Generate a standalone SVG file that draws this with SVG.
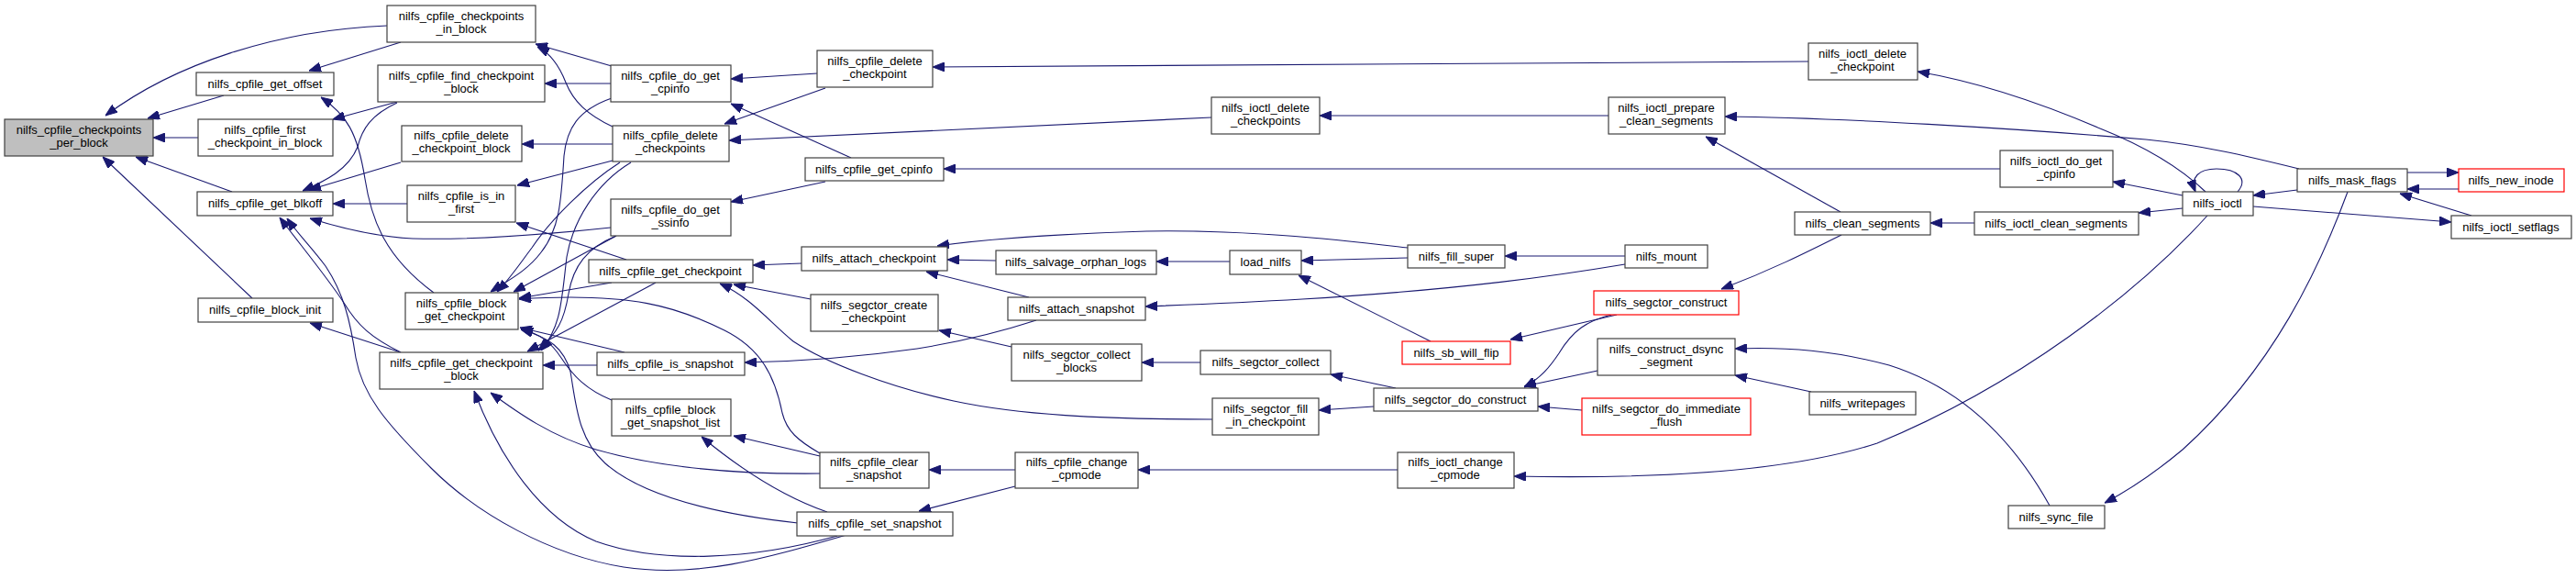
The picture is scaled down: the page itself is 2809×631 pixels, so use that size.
<svg xmlns="http://www.w3.org/2000/svg" width="2809" height="631" viewBox="0 0 2809 631">
<defs>
<marker id="ah" markerUnits="userSpaceOnUse" viewBox="0 0 13 10" refX="13" refY="5" markerWidth="13" markerHeight="10" orient="auto">
<path d="M0,0 L13,5 L0,10 z" fill="#191970" stroke="#191970" stroke-width="1"/>
</marker>
</defs>
<style>
rect{fill:#ffffff;stroke:#404040;stroke-width:1.2}
.root rect{fill:#bfbfbf}
.red rect{stroke:#ff0000}
text{font-family:"Liberation Sans",Arial,sans-serif;font-size:13px;fill:#000;text-anchor:middle}
#edges path{fill:none;stroke:#191970;stroke-width:1.1;marker-end:url(#ah)}
</style>
<rect x="0" y="0" width="2809" height="631" style="fill:#fff;stroke:none"/>
<g id="edges">
<path d="M422,28 C300,33 190,70 115,126"/>
<path d="M244,104 L161,129"/>
<path d="M216,150 L167,150"/>
<path d="M253,209 L148,171"/>
<path d="M275,325 L112,171"/>
<path d="M437,46 L337,77"/>
<path d="M473,319 C420,280 405,240 398,195 C390,145 378,125 350,106"/>
<path d="M433,111 L363,130"/>
<path d="M433,112 C405,125 395,140 390,160 C380,185 355,197 330,208"/>
<path d="M437,177 L337,207"/>
<path d="M444,222 L363,222"/>
<path d="M666,248 C600,255 520,262 450,260 C410,258 370,248 338,238"/>
<path d="M437,384 C405,368 390,355 375,330 C355,300 330,270 305,237"/>
<path d="M923,583 C830,610 760,630 680,618 C600,605 520,560 470,510 C420,460 395,430 388,390 C382,350 375,320 355,290 C340,270 325,255 313,238"/>
<path d="M667,72 L584,48"/>
<path d="M668,138 C640,125 625,110 617,90 C610,72 600,58 586,51"/>
<path d="M666,91 L594,91"/>
<path d="M668,157 L569,157"/>
<path d="M668,175 L564,202"/>
<path d="M683,283 L563,243"/>
<path d="M667,107 C630,120 618,140 615,170 C612,220 610,250 590,275 C575,295 555,305 535,318"/>
<path d="M676,177 C640,200 600,240 580,270 C565,290 555,305 542,318"/>
<path d="M672,257 L560,318"/>
<path d="M667,308 L566,325"/>
<path d="M688,177 C650,200 625,240 618,280 C612,330 612,355 590,382"/>
<path d="M672,257 C640,270 625,290 620,320 C615,350 608,362 587,382"/>
<path d="M715,308 L575,383"/>
<path d="M681,384 L567,357"/>
<path d="M667,436 C640,425 625,410 612,390 C600,372 590,365 568,358"/>
<path d="M870,570 C780,560 700,540 660,505 C630,478 628,440 622,405 C615,380 600,368 568,359"/>
<path d="M894,494 C870,480 858,470 853,450 C845,410 830,380 790,360 C740,335 690,318 566,326"/>
<path d="M651,398 L592,398"/>
<path d="M894,516 C800,517 720,510 650,490 C600,475 565,450 535,428"/>
<path d="M913,584 C820,610 720,615 650,590 C590,565 545,500 517,426"/>
<path d="M894,497 L800,475"/>
<path d="M902,558 C850,540 800,505 765,476"/>
<path d="M437,384 L338,352"/>
<path d="M874,287 L821,289"/>
<path d="M884,326 L800,310"/>
<path d="M1322,457 C1200,457 1110,452 1040,437 C970,422 900,395 865,372 C840,352 820,325 785,309"/>
<path d="M1086,284 L1033,283"/>
<path d="M1535,270 C1450,260 1350,250 1250,252 C1150,255 1080,260 1022,268"/>
<path d="M1122,324 L1010,296"/>
<path d="M1103,378 L1024,360"/>
<path d="M1130,349 C1090,362 1050,372 1000,380 C930,390 870,394 812,395"/>
<path d="M1772,288 C1700,300 1600,315 1420,326 C1350,330 1300,332 1249,334"/>
<path d="M1341,285 L1261,285"/>
<path d="M1535,281 L1419,284"/>
<path d="M1772,279 L1641,279"/>
<path d="M1560,372 L1416,300"/>
<path d="M1763,343 L1647,370"/>
<path d="M2008,256 C1970,275 1930,295 1877,315"/>
<path d="M1757,343 C1730,350 1715,360 1700,385 C1690,400 1680,412 1662,422"/>
<path d="M1742,404 L1662,421"/>
<path d="M1725,447 L1677,443"/>
<path d="M1522,423 L1451,408"/>
<path d="M1309,395 L1245,395"/>
<path d="M1498,443 L1438,447"/>
<path d="M1975,427 L1892,409"/>
<path d="M2235,551 C2190,470 2130,420 2060,398 C2000,382 1950,378 1892,380"/>
<path d="M1107,512 L1013,512"/>
<path d="M1107,530 L1002,557"/>
<path d="M1524,512 L1241,512"/>
<path d="M2407,235 C2330,320 2200,420 2047,483 C1950,515 1800,522 1651,519"/>
<path d="M1972,67 L1017,73"/>
<path d="M891,80 L797,86"/>
<path d="M900,96 L790,135"/>
<path d="M928,172 L797,113"/>
<path d="M900,198 L797,220"/>
<path d="M2181,184 L1029,184"/>
<path d="M1321,128 L795,153"/>
<path d="M1754,126 L1439,126"/>
<path d="M2007,231 L1860,149"/>
<path d="M2507,184 C2450,170 2400,158 2340,152 C2200,140 2000,128 1881,127"/>
<path d="M2405,209 C2380,185 2340,160 2290,140 C2220,110 2150,88 2091,78"/>
<path d="M2380,213 L2304,198"/>
<path d="M2380,227 L2332,232"/>
<path d="M2153,243 L2105,243"/>
<path d="M2505,207 L2457,213"/>
<path d="M2457,225 L2673,242"/>
<path d="M2625,188 L2681,188"/>
<path d="M2681,206 L2625,206"/>
<path d="M2695,235 L2617,211"/>
<path d="M2560,209 C2530,290 2480,400 2380,490 C2350,515 2320,535 2295,548"/>
<path d="M2440,209 C2452,195 2440,184 2417,184 C2398,184 2388,193 2394,209"/>
</g>
<g id="n0" class="root"><rect x="5" y="130" width="162" height="40"/><text x="86" y="146">nilfs_cpfile_checkpoints</text><text x="86" y="160">_per_block</text></g>
<g id="n1"><rect x="214" y="79" width="150" height="25"/><text x="289" y="96">nilfs_cpfile_get_offset</text></g>
<g id="n2"><rect x="216" y="130" width="147" height="40"/><text x="289" y="146">nilfs_cpfile_first</text><text x="289" y="160">_checkpoint_in_block</text></g>
<g id="n3"><rect x="215" y="209" width="148" height="26"/><text x="289" y="226">nilfs_cpfile_get_blkoff</text></g>
<g id="n4"><rect x="216" y="325" width="147" height="26"/><text x="289" y="342">nilfs_cpfile_block_init</text></g>
<g id="n5"><rect x="422" y="6" width="162" height="40"/><text x="503" y="22">nilfs_cpfile_checkpoints</text><text x="503" y="36">_in_block</text></g>
<g id="n6"><rect x="412" y="71" width="182" height="40"/><text x="503" y="87">nilfs_cpfile_find_checkpoint</text><text x="503" y="101">_block</text></g>
<g id="n7"><rect x="438" y="137" width="131" height="39"/><text x="503" y="152">nilfs_cpfile_delete</text><text x="503" y="166">_checkpoint_block</text></g>
<g id="n8"><rect x="444" y="202" width="118" height="40"/><text x="503" y="218">nilfs_cpfile_is_in</text><text x="503" y="232">_first</text></g>
<g id="n9"><rect x="442" y="319" width="123" height="40"/><text x="503" y="335">nilfs_cpfile_block</text><text x="503" y="349">_get_checkpoint</text></g>
<g id="n10"><rect x="414" y="384" width="178" height="40"/><text x="503" y="400">nilfs_cpfile_get_checkpoint</text><text x="503" y="414">_block</text></g>
<g id="n11"><rect x="666" y="71" width="131" height="40"/><text x="731" y="87">nilfs_cpfile_do_get</text><text x="731" y="101">_cpinfo</text></g>
<g id="n12"><rect x="668" y="137" width="127" height="39"/><text x="731" y="152">nilfs_cpfile_delete</text><text x="731" y="166">_checkpoints</text></g>
<g id="n13"><rect x="666" y="217" width="131" height="40"/><text x="731" y="233">nilfs_cpfile_do_get</text><text x="731" y="247">_ssinfo</text></g>
<g id="n14"><rect x="642" y="283" width="179" height="25"/><text x="731" y="300">nilfs_cpfile_get_checkpoint</text></g>
<g id="n15"><rect x="651" y="384" width="161" height="25"/><text x="731" y="401">nilfs_cpfile_is_snapshot</text></g>
<g id="n16"><rect x="667" y="435" width="130" height="40"/><text x="731" y="451">nilfs_cpfile_block</text><text x="731" y="465">_get_snapshot_list</text></g>
<g id="n17"><rect x="891" y="55" width="126" height="40"/><text x="954" y="71">nilfs_cpfile_delete</text><text x="954" y="85">_checkpoint</text></g>
<g id="n18"><rect x="878" y="172" width="151" height="25"/><text x="953" y="189">nilfs_cpfile_get_cpinfo</text></g>
<g id="n19"><rect x="874" y="269" width="159" height="26"/><text x="953" y="286">nilfs_attach_checkpoint</text></g>
<g id="n20"><rect x="884" y="321" width="139" height="40"/><text x="953" y="337">nilfs_segctor_create</text><text x="953" y="351">_checkpoint</text></g>
<g id="n21"><rect x="894" y="493" width="119" height="39"/><text x="953" y="508">nilfs_cpfile_clear</text><text x="953" y="522">_snapshot</text></g>
<g id="n22"><rect x="869" y="558" width="170" height="26"/><text x="954" y="575">nilfs_cpfile_set_snapshot</text></g>
<g id="n23"><rect x="1321" y="106" width="118" height="40"/><text x="1380" y="122">nilfs_ioctl_delete</text><text x="1380" y="136">_checkpoints</text></g>
<g id="n24"><rect x="1086" y="273" width="175" height="26"/><text x="1173" y="290">nilfs_salvage_orphan_logs</text></g>
<g id="n25"><rect x="1341" y="273" width="78" height="26"/><text x="1380" y="290">load_nilfs</text></g>
<g id="n26"><rect x="1099" y="324" width="150" height="25"/><text x="1174" y="341">nilfs_attach_snapshot</text></g>
<g id="n27"><rect x="1103" y="375" width="142" height="40"/><text x="1174" y="391">nilfs_segctor_collect</text><text x="1174" y="405">_blocks</text></g>
<g id="n28"><rect x="1309" y="382" width="142" height="26"/><text x="1380" y="399">nilfs_segctor_collect</text></g>
<g id="n29"><rect x="1322" y="434" width="116" height="40"/><text x="1380" y="450">nilfs_segctor_fill</text><text x="1380" y="464">_in_checkpoint</text></g>
<g id="n30"><rect x="1107" y="493" width="134" height="39"/><text x="1174" y="508">nilfs_cpfile_change</text><text x="1174" y="522">_cpmode</text></g>
<g id="n31"><rect x="1754" y="106" width="127" height="40"/><text x="1817" y="122">nilfs_ioctl_prepare</text><text x="1817" y="136">_clean_segments</text></g>
<g id="n32"><rect x="1535" y="267" width="106" height="25"/><text x="1588" y="284">nilfs_fill_super</text></g>
<g id="n33"><rect x="1772" y="267" width="90" height="25"/><text x="1817" y="284">nilfs_mount</text></g>
<g id="n34" class="red"><rect x="1738" y="317" width="158" height="26"/><text x="1817" y="334">nilfs_segctor_construct</text></g>
<g id="n35" class="red"><rect x="1529" y="372" width="118" height="25"/><text x="1588" y="389">nilfs_sb_will_flip</text></g>
<g id="n36"><rect x="1498" y="423" width="179" height="25"/><text x="1587" y="440">nilfs_segctor_do_construct</text></g>
<g id="n37"><rect x="1742" y="369" width="150" height="40"/><text x="1817" y="385">nilfs_construct_dsync</text><text x="1817" y="399">_segment</text></g>
<g id="n38" class="red"><rect x="1725" y="434" width="184" height="40"/><text x="1817" y="450">nilfs_segctor_do_immediate</text><text x="1817" y="464">_flush</text></g>
<g id="n39"><rect x="1524" y="493" width="127" height="39"/><text x="1587" y="508">nilfs_ioctl_change</text><text x="1587" y="522">_cpmode</text></g>
<g id="n40"><rect x="1972" y="47" width="119" height="40"/><text x="2031" y="63">nilfs_ioctl_delete</text><text x="2031" y="77">_checkpoint</text></g>
<g id="n41"><rect x="2181" y="164" width="123" height="40"/><text x="2242" y="180">nilfs_ioctl_do_get</text><text x="2242" y="194">_cpinfo</text></g>
<g id="n42"><rect x="1957" y="231" width="148" height="25"/><text x="2031" y="248">nilfs_clean_segments</text></g>
<g id="n43"><rect x="2153" y="231" width="179" height="25"/><text x="2242" y="248">nilfs_ioctl_clean_segments</text></g>
<g id="n44"><rect x="1973" y="427" width="116" height="25"/><text x="2031" y="444">nilfs_writepages</text></g>
<g id="n45"><rect x="2190" y="551" width="105" height="25"/><text x="2242" y="568">nilfs_sync_file</text></g>
<g id="n46"><rect x="2380" y="209" width="77" height="26"/><text x="2418" y="226">nilfs_ioctl</text></g>
<g id="n47"><rect x="2505" y="184" width="120" height="25"/><text x="2565" y="201">nilfs_mask_flags</text></g>
<g id="n48" class="red"><rect x="2681" y="184" width="115" height="25"/><text x="2738" y="201">nilfs_new_inode</text></g>
<g id="n49"><rect x="2673" y="235" width="131" height="25"/><text x="2738" y="252">nilfs_ioctl_setflags</text></g>
</svg>
